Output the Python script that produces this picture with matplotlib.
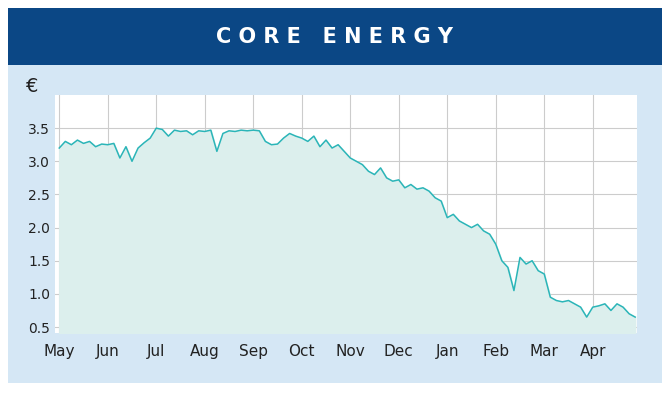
import numpy as np
import matplotlib.pyplot as plt
from matplotlib.patches import Rectangle

months = ['May', 'Jun', 'Jul', 'Aug', 'Sep', 'Oct', 'Nov', 'Dec', 'Jan', 'Feb', 'Mar', 'Apr']
prices = [
    3.20, 3.30, 3.25, 3.32, 3.27, 3.30, 3.22, 3.26,
    3.25, 3.27, 3.05, 3.22, 3.00, 3.20, 3.28, 3.35,
    3.50, 3.48, 3.38, 3.47, 3.45, 3.46, 3.40, 3.46,
    3.45, 3.47, 3.15, 3.42, 3.46, 3.45, 3.47, 3.46,
    3.47, 3.46, 3.30, 3.25, 3.26, 3.35, 3.42, 3.38,
    3.35, 3.30, 3.38, 3.22, 3.32, 3.20, 3.25, 3.15,
    3.05, 3.00, 2.95, 2.85, 2.80, 2.90, 2.75, 2.70,
    2.72, 2.60, 2.65, 2.58, 2.60, 2.55, 2.45, 2.40,
    2.15, 2.20, 2.10, 2.05, 2.00, 2.05, 1.95, 1.90,
    1.75, 1.50, 1.40, 1.05, 1.55, 1.45, 1.50, 1.35,
    1.30, 0.95, 0.90, 0.88, 0.90, 0.85, 0.80, 0.65,
    0.80, 0.82, 0.85, 0.75, 0.85, 0.80, 0.70, 0.65,
]
yticks = [0.5, 1.0, 1.5, 2.0, 2.5, 3.0, 3.5]

fig = plt.figure(figsize=(6.7, 4), dpi=100)
# panel and header
fig.patches.append(Rectangle((8/670, 1-383/400), 654/670, 375/400, transform=fig.transFigure,
                             facecolor='#d5e7f5', edgecolor='none', zorder=0))
fig.patches.append(Rectangle((8/670, 1-65/400), 654/670, 57/400, transform=fig.transFigure,
                             facecolor='#0b4785', edgecolor='none', zorder=1))
fig.text(0.5, 1-37/400, 'C O R E   E N E R G Y', color='white', fontsize=15, fontweight='bold',
         ha='center', va='center')
fig.text(32/670, 1-87/400, '€', fontsize=14, ha='center', va='center', color='#222222')

ax = fig.add_axes([55/670, 1-333/400, 582/670, 238/400], zorder=5)
ax.set_facecolor('white')
x = np.arange(len(prices))
ax.plot(x, prices, color='#2bb5b8', lw=1.1)
ax.fill_between(x, prices, 0.41, color='#dcefed')
ax.set_ylim(0.41, 4.0)
ax.set_xlim(-0.7, 95.3)
ax.set_yticks(yticks)
ax.set_yticklabels([f'{v:.1f}' for v in yticks])
ax.set_xticks(np.arange(0, 96, 8))
ax.set_xticklabels(months, fontsize=11)
ax.tick_params(length=0, labelsize=10, colors='#222222')
ax.tick_params(axis='x', labelsize=11, pad=8)
ax.grid(color='#cccccc', lw=0.8)
ax.set_axisbelow(True)
for s in ax.spines.values():
    s.set_visible(False)

fig.savefig('out.png', dpi=100)
